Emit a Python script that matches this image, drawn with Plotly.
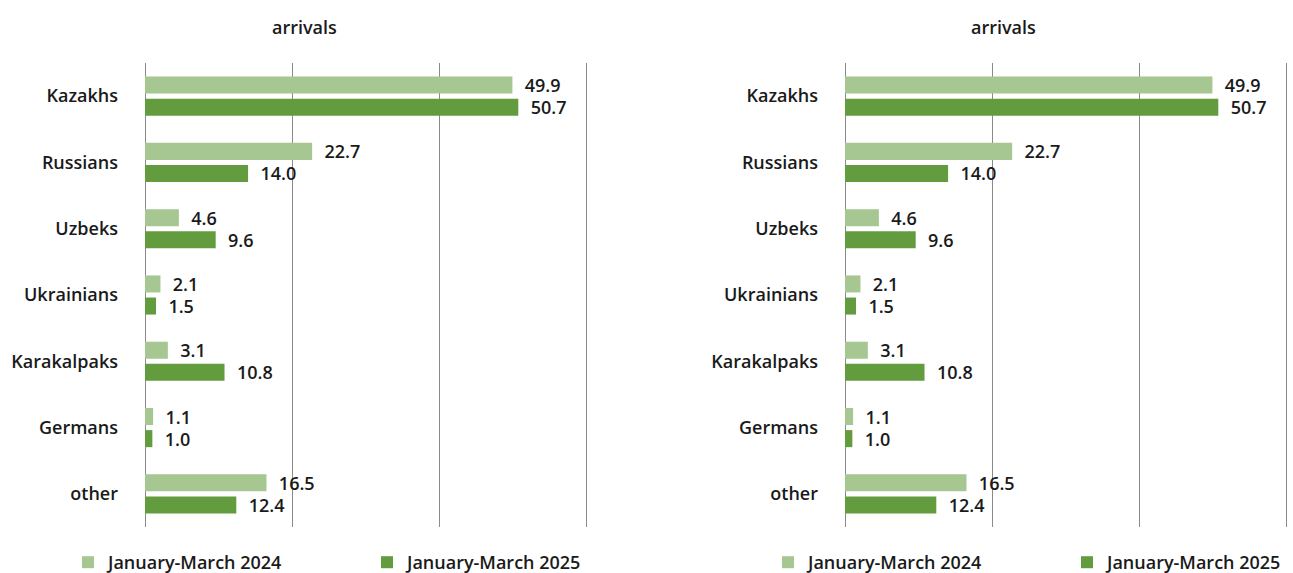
import plotly.graph_objects as go

categories = ["Kazakhs", "Russians", "Uzbeks", "Ukrainians", "Karakalpaks", "Germans", "other"]
arrivals_2024 = [49.9, 22.7, 4.6, 2.1, 3.1, 1.1, 16.5]
arrivals_2025 = [50.7, 14.0, 9.6, 1.5, 10.8, 1.0, 12.4]
series_names = ["January-March 2024", "January-March 2025"]
panel_titles = ["arrivals", "arrivals"]

C_LIGHT = "#A6C692"
C_DARK = "#629C3E"
FONT = "Open Sans"
TXT = "#1a1a1a"
W, H = 1293, 573
FS = 18

fig = go.Figure()
panels = [("x", "y", ["legend", "legend2"]), ("x2", "y2", ["legend3", "legend4"])]
for xa, ya, lgs in panels:
    for name, vals, col, lg in [(series_names[0], arrivals_2024, C_LIGHT, lgs[0]),
                                (series_names[1], arrivals_2025, C_DARK, lgs[1])]:
        fig.add_trace(go.Bar(
            x=vals, y=categories, orientation="h", name=name,
            marker=dict(color=col, line=dict(width=0)),
            xaxis=xa, yaxis=ya, legend=lg,
            text=[f"{v:.1f}" for v in vals], textposition="outside",
            texttemplate="  %{text}", constraintext="none",
            textfont=dict(family=FONT, size=FS, color=TXT, weight=600),
            cliponaxis=False,
        ))

ydom = [1 - 527 / H, 1 - 63 / H]
xaxis_common = dict(range=[0, 60.3], tick0=0, dtick=20, showgrid=True, gridcolor="#8a8a8a", gridwidth=1,
                    zeroline=True, zerolinecolor="#8a8a8a", zerolinewidth=1,
                    showticklabels=False, showline=False, ticks="", fixedrange=True, automargin=False)
yaxis_common = dict(autorange="reversed", showgrid=False, ticks="", showline=False,
                    tickfont=dict(family=FONT, size=FS, color=TXT, weight=600),
                    ticklabelstandoff=26, domain=ydom, automargin=False, fixedrange=True)

legend_font = dict(family=FONT, size=FS, color=TXT, weight=600)
def leg(x):
    return dict(orientation="h", x=x / W, xanchor="left", y=-8 / H, yanchor="bottom",
                font=legend_font, itemclick=False, bgcolor="rgba(0,0,0,0)",
                borderwidth=0)

fig.update_layout(
    width=W, height=H,
    margin=dict(l=0, r=0, t=0, b=0, autoexpand=False),
    paper_bgcolor="white", plot_bgcolor="white",
    barmode="group", bargap=0.333, bargroupgap=0.23,
    font=dict(family=FONT, color=TXT),
    xaxis=dict(domain=[145 / W, 589 / W], anchor="y", **xaxis_common),
    xaxis2=dict(domain=[845 / W, 1289 / W], anchor="y2", **xaxis_common),
    yaxis=dict(anchor="x", **yaxis_common),
    yaxis2=dict(anchor="x2", **yaxis_common),
    legend=leg(68), legend2=leg(367), legend3=leg(768), legend4=leg(1067),
    showlegend=True,
)

for cx, t in zip([304 / W, 1004 / W], panel_titles):
    fig.add_annotation(text=t, x=cx, y=1 - 27 / H, xref="paper", yref="paper",
                       xanchor="center", yanchor="middle",
                       showarrow=False, font=dict(family=FONT, size=FS, color=TXT, weight=600))

fig.write_html("out.html")
